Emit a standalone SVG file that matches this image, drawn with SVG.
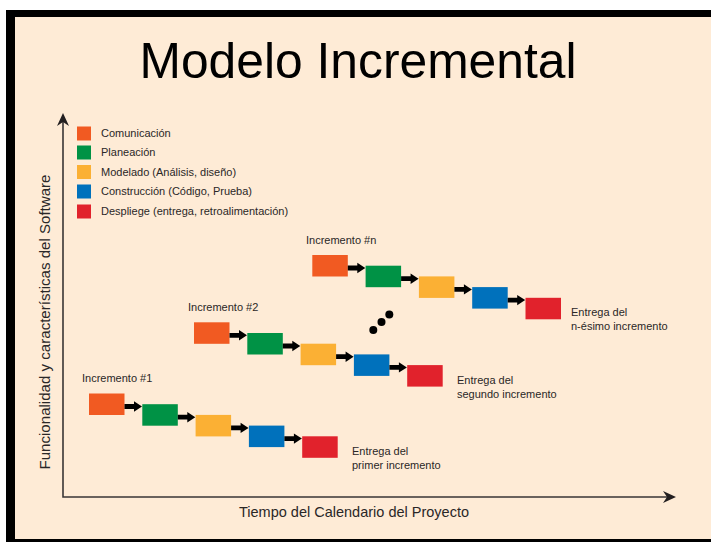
<svg xmlns="http://www.w3.org/2000/svg" width="711" height="542" viewBox="0 0 711 542">
<style>
.t{font-family:"Liberation Sans",Arial,sans-serif;fill:#2a2727}
.s{font-size:11px}
.o{fill:#F15A22}.g{fill:#009245}.y{fill:#FBB034}.b{fill:#0071BC}.r{fill:#E1222C}
.ax{stroke:#3a3636;stroke-width:1.6;fill:none}
</style>
<defs>
<path id="arr" d="M0,-2.4 H9.5 V-5.2 L17.5,0 L9.5,5.2 V2.4 H0 Z" fill="#000"/>
<path id="axh" d="M0,0 L-13,-6 L-9,0 L-13,6 Z" fill="#231f20"/>
</defs>
<rect x="0" y="0" width="711" height="542" fill="#fff"/>
<rect x="6" y="10" width="720" height="540" fill="#000"/>
<rect x="15" y="17" width="700" height="522" fill="#FEEBD6"/>
<text x="358" y="78" text-anchor="middle" font-family="Liberation Sans,Arial,sans-serif" font-size="50" fill="#000" textLength="437" lengthAdjust="spacingAndGlyphs">Modelo Incremental</text>
<g id="axes">
<path class="ax" d="M63,118 V497 H670"/>
<use href="#axh" transform="translate(63,113) rotate(-90)"/>
<use href="#axh" transform="translate(676,497)"/>
<text class="t" x="354" y="517" text-anchor="middle" font-size="14.5">Tiempo del Calendario del Proyecto</text>
<text class="t" transform="translate(50,322) rotate(-90)" text-anchor="middle" font-size="14" textLength="295" lengthAdjust="spacingAndGlyphs">Funcionalidad y características del Software</text>
</g>
<g id="legend">
<rect class="o" x="77" y="126.5" width="14" height="14"/>
<rect class="g" x="77" y="145.5" width="14" height="14"/>
<rect class="y" x="77" y="165" width="14" height="14"/>
<rect class="b" x="77" y="184.5" width="14" height="14"/>
<rect class="r" x="77" y="204.5" width="14" height="14"/>
<text class="t s" x="101" y="137">Comunicación</text>
<text class="t s" x="101" y="156">Planeación</text>
<text class="t s" x="101" y="176">Modelado (Análisis, diseño)</text>
<text class="t s" x="101" y="195">Construcción (Código, Prueba)</text>
<text class="t s" x="101" y="215">Despliege (entrega, retroalimentación)</text>
</g>
<g id="inc1">
<text class="t s" x="82" y="382">Incremento #1</text>
<rect class="o" x="89" y="393.5" width="35.5" height="21.5"/>
<rect class="g" x="142.3" y="404.2" width="35.5" height="21.5"/>
<rect class="y" x="195.6" y="414.9" width="35.5" height="21.5"/>
<rect class="b" x="248.9" y="425.6" width="35.5" height="21.5"/>
<rect class="r" x="302.2" y="436.3" width="35.5" height="21.5"/>
<text class="t s" x="352" y="454.5">Entrega del</text>
<text class="t s" x="352" y="469">primer incremento</text>
</g>
<g id="inc2">
<text class="t s" x="188" y="311">Incremento #2</text>
<rect class="o" x="194" y="322.3" width="35.5" height="21.5"/>
<rect class="g" x="247.3" y="333" width="35.5" height="21.5"/>
<rect class="y" x="300.6" y="343.7" width="35.5" height="21.5"/>
<rect class="b" x="353.9" y="354.4" width="35.5" height="21.5"/>
<rect class="r" x="407.2" y="365.1" width="35.5" height="21.5"/>
<text class="t s" x="457" y="384">Entrega del</text>
<text class="t s" x="457" y="398">segundo incremento</text>
</g>
<g id="incn">
<text class="t s" x="306" y="243.5">Incremento #n</text>
<rect class="o" x="312.3" y="255" width="35.5" height="21.5"/>
<rect class="g" x="365.6" y="265.7" width="35.5" height="21.5"/>
<rect class="y" x="418.9" y="276.4" width="35.5" height="21.5"/>
<rect class="b" x="472.2" y="287.1" width="35.5" height="21.5"/>
<rect class="r" x="525.5" y="297.8" width="35.5" height="21.5"/>
<text class="t s" x="571" y="316">Entrega del</text>
<text class="t s" x="571" y="330">n-ésimo incremento</text>
</g>
<g id="dots" fill="#000">
<circle cx="373.3" cy="330" r="4"/>
<circle cx="381.5" cy="322" r="4"/>
<circle cx="389.3" cy="314.5" r="4"/>
</g>
<g id="connectors">
<use href="#arr" x="124.5" y="406.5"/>
<use href="#arr" x="177.8" y="417.2"/>
<use href="#arr" x="231.1" y="427.9"/>
<use href="#arr" x="284.4" y="438.6"/>
<use href="#arr" x="229.5" y="335.3"/>
<use href="#arr" x="282.8" y="346"/>
<use href="#arr" x="336.1" y="356.7"/>
<use href="#arr" x="389.4" y="367.4"/>
<use href="#arr" x="347.8" y="268"/>
<use href="#arr" x="401.1" y="278.7"/>
<use href="#arr" x="454.4" y="289.4"/>
<use href="#arr" x="507.7" y="300.1"/>
</g>
</svg>
